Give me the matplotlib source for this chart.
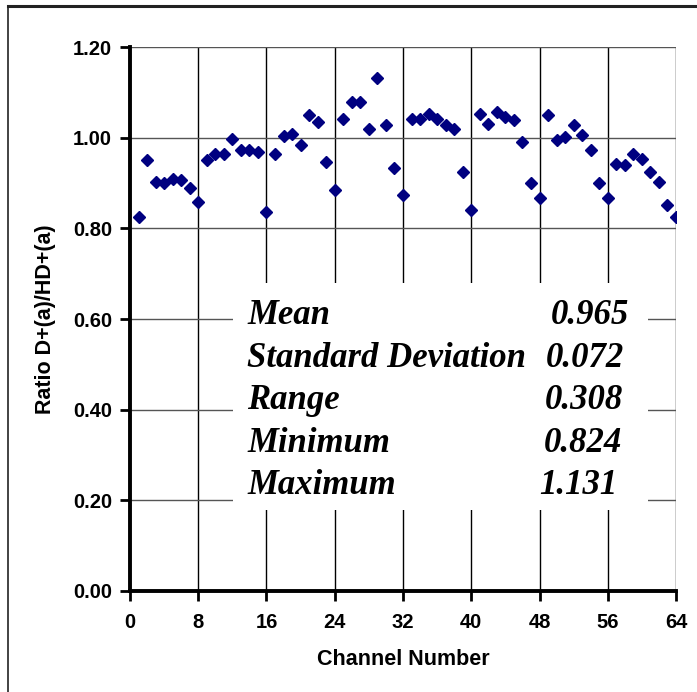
import numpy as np
import matplotlib.pyplot as plt
from matplotlib.patches import Rectangle
from matplotlib.lines import Line2D

# ---- data ----
channels = np.arange(1, 65)
ratio = [0.826, 0.950, 0.902, 0.899, 0.910, 0.907, 0.888, 0.859,
         0.950, 0.964, 0.964, 0.998, 0.973, 0.973, 0.968, 0.836,
         0.964, 1.004, 1.008, 0.983, 1.050, 1.035, 0.947, 0.884,
         1.042, 1.079, 1.079, 1.019, 1.131, 1.027, 0.933, 0.874,
         1.041, 1.041, 1.053, 1.041, 1.027, 1.019, 0.925, 0.841,
         1.053, 1.031, 1.057, 1.046, 1.039, 0.990, 0.899, 0.867,
         1.050, 0.994, 1.001, 1.027, 1.005, 0.973, 0.899, 0.867,
         0.943, 0.939, 0.964, 0.954, 0.925, 0.903, 0.851, 0.824]

stat_names = ["Mean", "Standard Deviation", "Range", "Minimum", "Maximum"]
stat_values = ["0.965", "0.072", "0.308", "0.824", "1.131"]

x_ticks = list(range(0, 65, 8))
y_ticks = [0.0, 0.2, 0.4, 0.6, 0.8, 1.0, 1.2]

fig = plt.figure(figsize=(6.97, 6.92), dpi=100)
ax = fig.add_axes([0.1865, 0.146, 0.7834, 0.786])

ax.set_xlim(0, 64)
ax.set_ylim(0, 1.2)

# grid lines (vertical black, horizontal grey)
for xv in x_ticks[1:]:
    ax.axvline(xv, color="black", lw=1.0, zorder=1)
for yv in y_ticks[1:]:
    ax.axhline(yv, color="#555555", lw=1.0, zorder=1)

ax.plot(channels, ratio, linestyle="none", marker="D", markersize=6.5,
        color="#000080", zorder=4)

# stats box covering the grid
ax.add_patch(Rectangle((12.1, 0.179), 60.7 - 12.1, 0.679 - 0.179,
                       facecolor="white", edgecolor="none", zorder=2))

tfont = dict(family="Liberation Serif", weight="bold", style="italic",
             fontsize=25, color="black", zorder=3)
row_y = [315, 358, 400, 443, 485]
val_right = [629, 624, 623, 622, 617]
for name, val, py, vr in zip(stat_names, stat_values, row_y, val_right):
    fy = 1 - py / 692
    fig.text(247 / 697, fy, name, ha="left", va="center", **tfont)
    fig.text(vr / 697, fy, val, ha="right", va="center", **tfont)

for s in ["top", "right"]:
    ax.spines[s].set_visible(False)
for s in ["left", "bottom"]:
    ax.spines[s].set_linewidth(2.8)
    ax.spines[s].set_zorder(5)

ax.set_xticks(x_ticks)
ax.set_yticks(y_ticks)
ax.set_yticklabels([f"{v:.2f}" for v in y_ticks])
ax.tick_params(direction="out", length=7, width=2, labelsize=14.5)
ax.tick_params(axis="x", pad=9)
ax.tick_params(axis="y", pad=6)
for lab in ax.get_xticklabels() + ax.get_yticklabels():
    lab.set_fontweight("bold")
    lab.set_family("Liberation Sans")

ax.set_xlabel("Channel Number", fontsize=15.5, fontweight="bold",
              family="Liberation Sans", labelpad=12)
ax.set_ylabel("Ratio D+(a)/HD+(a)", fontsize=15.5, fontweight="bold",
              family="Liberation Sans", labelpad=12)

# outer frame (top and left edges visible)
fig.add_artist(Line2D([7.5 / 697, 1.0], [1 - 5.5 / 692] * 2,
                      transform=fig.transFigure, color="#222222", lw=2.2))
fig.add_artist(Line2D([7.5 / 697] * 2, [0, 1 - 5.5 / 692],
                      transform=fig.transFigure, color="#222222", lw=1.2))

fig.savefig("out.png", dpi=100)
